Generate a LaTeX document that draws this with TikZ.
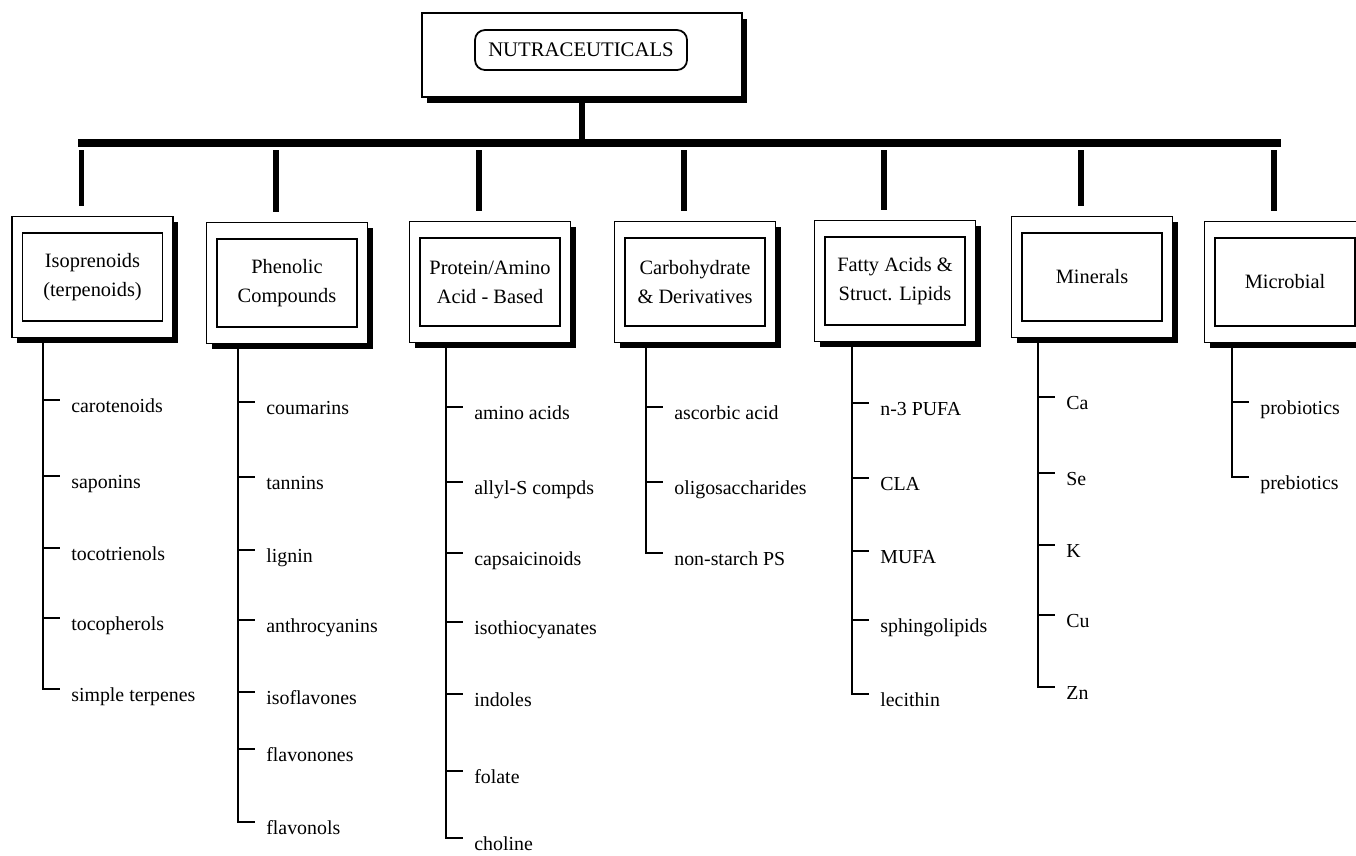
\documentclass[tikz,border=0pt]{standalone}
\usepackage{fontspec}
\setmainfont{Liberation Serif}
\usetikzlibrary{positioning,shadows}
\tikzset{
  catframe/.style = {rectangle, draw=black, line width=1pt, fill=white,
                     minimum width=32.2mm, minimum height=24.2mm,
                     drop shadow={shadow xshift=1mm, shadow yshift=-1.1mm,
                                  fill=black, opacity=1}},
  topframe/.style = {catframe, minimum width=64mm, minimum height=16.8mm},
  cattext/.style  = {rectangle, draw=black, line width=1pt,
                     minimum width=28mm, minimum height=17.6mm,
                     align=center, font=\fontsize{11.6}{16.5}\selectfont},
  toptext/.style  = {rectangle, rounded corners=2mm, draw=black, line width=1pt,
                     minimum width=42.4mm, minimum height=8mm,
                     font=\fontsize{11.8}{14}\selectfont},
  entry/.style    = {anchor=base west, inner sep=0pt, yshift=-2.4mm,
                     font=\fontsize{11.3}{13}\selectfont},
  hbar/.style     = {line width=4.2pt},
  stem/.style     = {line width=3.2pt},
  spine/.style    = {line width=1.2pt}
}
\begin{document}
\begin{tikzpicture}[x=0.2mm, y=-0.2mm]
  \useasboundingbox (0,0) rectangle (1356,855);
  \clip (0,0) rectangle (1356,855);

  \node[topframe] (top) at (582,55) {};
  \node[toptext] (topT) at (581,50) {NUTRACEUTICALS};

  \foreach \n/\x/\y/\t in {iso/92.5/277/{Isoprenoids\\(terpenoids)},
                           phen/287/283/{Phenolic\\Compounds},
                           prot/490/282/{Protein/Amino\\Acid - Based},
                           carb/695/282/{Carbohydrate\\\& Derivatives},
                           fat/895/281/{Fatty Acids \&\\Struct. Lipids},
                           min/1092/277/{Minerals},
                           mic/1285/282/{Microbial}}{
    \node[catframe] (\n) at (\x,\y) {};
    \node[cattext] (\n-t) at (\n) {\t};
  }

  % bar and stems
  \coordinate (barL) at (78,143);
  \coordinate (barR) at (1281,143);
  \draw[hbar] (barL) -- (barR);
  \draw[stem] (top.south) -- (top.south |- barL);
  \foreach \n in {iso,phen,prot,carb,fat,min,mic}{
    \coordinate (\n-d) at ([xshift=-2.2mm]\n.north);
    \draw[stem, shorten <=1.4mm, shorten >=2mm] (\n-d |- barL) -- (\n-d);
  }

  % entries under each box
  \foreach \n/\x/\items in {
      iso/71/{carotenoids/400, saponins/476, tocotrienols/548, tocopherols/618, simple terpenes/689},
      phen/266/{coumarins/402, tannins/477, lignin/550, anthrocyanins/620, isoflavones/692, flavonones/749, flavonols/822},
      prot/474/{amino acids/407, allyl-S compds/482, capsaicinoids/553, isothiocyanates/622, indoles/694, folate/771, choline/838},
      carb/674/{ascorbic acid/407, oligosaccharides/482, non-starch PS/553},
      fat/880/{n-3 PUFA/403, CLA/478, MUFA/551, sphingolipids/620, lecithin/694},
      min/1066/{Ca/397, Se/473, K/545, Cu/615, Zn/687},
      mic/1260/{probiotics/402, prebiotics/477}}{
    \coordinate (\n-s) at ({\x-28},0);
    \foreach \t/\y [count=\i] in \items {
      \node[entry] (\n-\i) at (\x,\y) {\t};
      \draw[spine] (\n-s |- \n.south) |- ([shift={(-2.2mm,2.4mm)}]\n-\i.base west);
    }
  }
\end{tikzpicture}
\end{document}
